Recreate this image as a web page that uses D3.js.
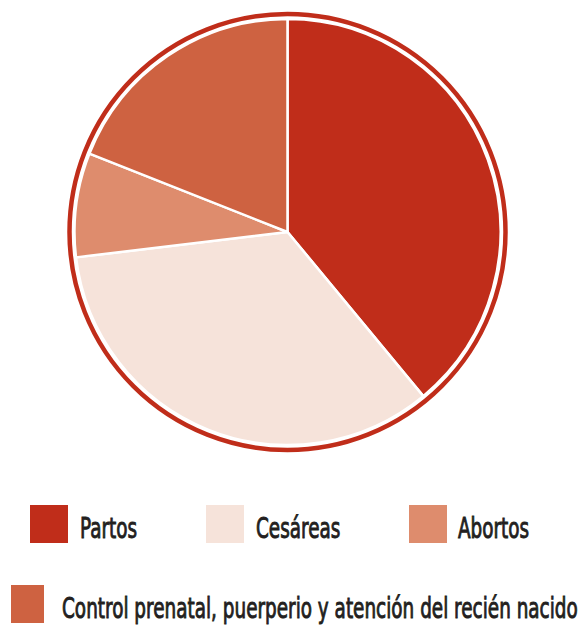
<!DOCTYPE html>
<html lang="es">
<head>
<meta charset="utf-8">
<title>Pie</title>
<script src="https://d3js.org/d3.v7.min.js"></script>
<style>
body { margin: 0; background: #fff; }
.legend text { font-family: "DejaVu Sans Condensed", "Liberation Sans Narrow", sans-serif; font-size: 29px; fill: #231f20; stroke: #231f20; stroke-width: 0.9px; }
</style>
</head>
<body>
<div id="chart"></div>
<script>
// data (percent of total)
var categories = ["Partos", "Cesáreas", "Abortos", "Control prenatal, puerperio y atención del recién nacido"];
var shares = [39, 34.1, 7.9, 19];
var colors = ["#c02d1a", "#f6e3da", "#de8c6d", "#ce6241"];

var w = 585, h = 625;
var cx = 287.5, cy = 232, r = 213;

var svg = d3.select("#chart").append("svg")
  .attr("width", w).attr("height", h);

var pie = d3.pie().sort(null).value(function(d) { return d; });
var arc = d3.arc().innerRadius(0).outerRadius(r);

var g = svg.append("g").attr("transform", "translate(" + cx + "," + cy + ")");

g.selectAll("path")
  .data(pie(shares))
  .enter().append("path")
  .attr("d", arc)
  .attr("fill", function(d, i) { return colors[i]; })
  .attr("stroke", "#fff")
  .attr("stroke-width", 2.5)
  .attr("stroke-linejoin", "round");

// outer ring
g.append("circle")
  .attr("r", r + 5)
  .attr("fill", "none")
  .attr("stroke", colors[0])
  .attr("stroke-width", 4.5);

// legend: [box x, box y, box width, text x]
var legendPos = [[30, 505, 38, 80], [206, 505, 38, 256], [409, 505, 38, 458], [11, 585, 33, 62]];
var leg = svg.append("g").attr("class", "legend");

var items = leg.selectAll("g")
  .data(categories)
  .enter().append("g");

items.append("rect")
  .attr("x", function(d, i) { return legendPos[i][0]; })
  .attr("y", function(d, i) { return legendPos[i][1]; })
  .attr("width", function(d, i) { return legendPos[i][2]; })
  .attr("height", 38)
  .attr("fill", function(d, i) { return colors[i]; });

var texts = items.append("text").text(function(d) { return d; });

// condensed look: squeeze text horizontally so the long label fits
var natural = texts.nodes()[3].getComputedTextLength();
var k = 516 / natural;
texts.attr("transform", function(d, i) {
  return "translate(" + legendPos[i][3] + "," + (legendPos[i][1] + 33) + ") scale(" + k + ",1)";
});
</script>
</body>
</html>
